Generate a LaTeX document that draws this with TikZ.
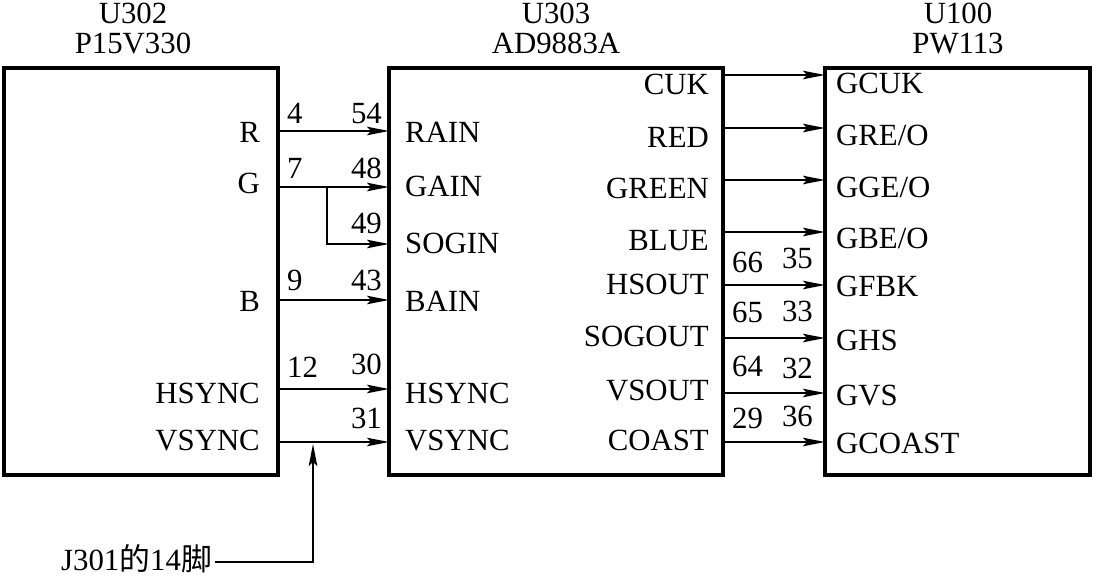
\documentclass[tikz,border=0pt]{standalone}
\usepackage{fontspec}
\setmainfont{Liberation Serif}
\newfontfamily\cjk{Noto Sans CJK SC}
\usetikzlibrary{arrows.meta, positioning}

\begin{document}
\begin{tikzpicture}[x=1pt, y=-1pt, >={Stealth[length=22pt, width=8.5pt, inset=4pt]},
  font=\fontsize{30.8}{32}\selectfont,
  chip/.style={draw, line width=4pt, outer sep=0pt, inner sep=0pt, anchor=north west},
  wire/.style={line width=1.8pt, ->},
  pinl/.style={inner sep=0pt, anchor=base west},
  pinr/.style={inner sep=0pt, anchor=base east}]
  \useasboundingbox (0,0) rectangle (1103,578);
  %% chips
  \node[chip, minimum width=273.5pt, minimum height=407pt] (u302) at (4,68) {};
  \node[chip, minimum width=333.5pt, minimum height=407pt] (u303) at (389,68) {};
  \node[chip, minimum width=265pt, minimum height=407pt] (u100) at (825,68) {};
  %% titles
  \node[inner sep=0pt, anchor=base] (u302-ref) at (133,24) {U302};
  \node[inner sep=0pt, anchor=base] (u302-val) at (133,54) {P15V330};
  \node[inner sep=0pt, anchor=base] (u303-ref) at (556,24) {U303};
  \node[inner sep=0pt, anchor=base] (u303-val) at (556,54) {AD9883A};
  \node[inner sep=0pt, anchor=base] (u100-ref) at (958,24) {U100};
  \node[inner sep=0pt, anchor=base] (u100-val) at (958,54) {PW113};
  %% pin names
  \foreach \nm/\txt/\y in {r/R/142, g/G/193, b/B/311, hs/HSYNC/403, vs/VSYNC/450}
    \node[pinr] (u302-\nm) at (260,\y) {\txt};
  \foreach \nm/\txt/\y in {rain/RAIN/142, gain/GAIN/196, sogin/SOGIN/253,
      bain/BAIN/311, hsync/HSYNC/403, vsync/VSYNC/450}
    \node[pinl] (u303-\nm) at (405,\y) {\txt};
  \foreach \nm/\txt/\y in {cuk/CUK/95, red/RED/147, green/GREEN/198, blue/BLUE/250,
      hsout/HSOUT/294, sogout/SOGOUT/346, vsout/VSOUT/400, coast/COAST/450}
    \node[pinr] (u303-\nm) at (709,\y) {\txt};
  \foreach \nm/\txt/\y in {gcuk/GCUK/93, gre/GRE\slash O/145, gge/GGE\slash O/197,
      gbe/GBE\slash O/248, gfbk/GFBK/296, ghs/GHS/350, gvs/GVS/405, gcoast/GCOAST/453}
    \node[pinl] (u100-\nm) at (836,\y) {\txt};
  %% U302 -> U303
  \foreach \nm/\y/\a/\ya/\b/\yb in {r/131/4/123/54/123, g/187/7/178/48/178,
      b/300/9/290/43/290, hs/389/12/377/30/374}{
    \coordinate (\nm-o) at (277.5,\y);
    \coordinate (\nm-i) at (389,\y);
    \node[pinl] (n\a) at (287,\ya) {\a};
    \node[pinr] (n\b) at (382,\yb) {\b};
    \draw[wire] (\nm-o) -- (\nm-i);
  }
  \coordinate (vs-o) at (277.5,442);
  \coordinate (vs-i) at (389,442);
  \node[pinr] (n31) at (382,428) {31};
  \draw[wire] (vs-o) -- (vs-i);
  \coordinate (g-tap) at (327,187);
  \coordinate (sog-i) at (389,244);
  \node[pinr] (n49) at (382,233) {49};
  \draw[wire] (g-tap) |- (sog-i);
  %% U303 -> U100
  \foreach \y in {75,128,180,232}
    \draw[wire] (722.5,\y) coordinate (o\y) -- (825,\y) coordinate (i\y);
  \foreach \y/\a/\ya/\b/\yb in {285/66/272/35/268, 338/65/322/33/321,
      393/64/376/32/378, 442/29/428/36/426}{
    \node[pinl] (n\a) at (732,\ya) {\a};
    \node[pinr] (n\b) at (813,\yb) {\b};
    \draw[wire] (722.5,\y) coordinate (o\y) -- (825,\y) coordinate (i\y);
  }
  %% J301 pin 14
  \node[inner sep=0pt, anchor=base east] (j301) at (212,570) {J301{\cjk 的}14{\cjk 脚}};
  \coordinate (vs-tap) at (313,444);
  \draw[wire] ([xshift=3pt, yshift=-4pt]j301.east) -| (vs-tap);
\end{tikzpicture}
\end{document}
